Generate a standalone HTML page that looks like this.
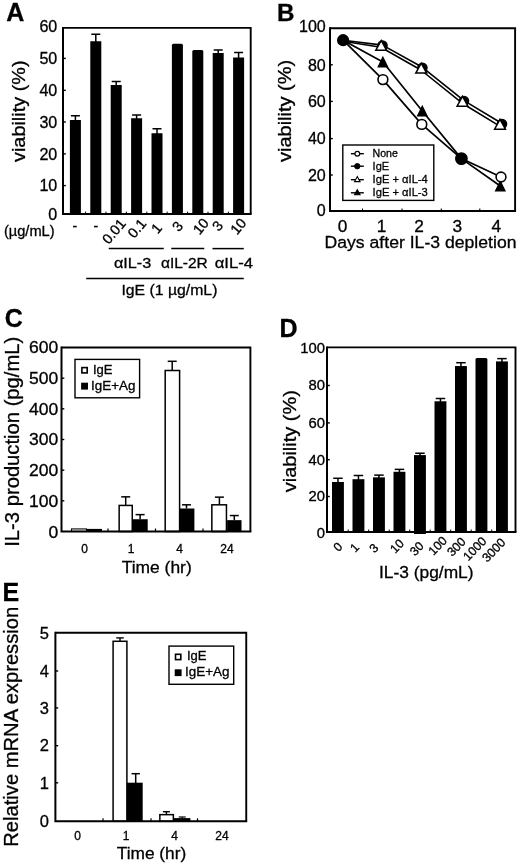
<!DOCTYPE html>
<html lang="en">
<head>
<meta charset="utf-8">
<title>Figure</title>
<style>
html,body{margin:0;padding:0;background:#fff;}
body{width:520px;height:865px;overflow:hidden;}
svg{display:block;}
svg text{font-family:'Liberation Sans', 'DejaVu Sans', sans-serif;fill:#000;stroke:#000;stroke-width:0.3px;}
</style>
</head>
<body>
<svg width="520" height="865" viewBox="0 0 520 865">
<rect x="0" y="0" width="520" height="865" fill="#fff"/>
<g id="panelA">
<text x="6.3" y="20.9" font-size="25" font-weight="bold">A</text>
<line x1="75.40" y1="115.75" x2="75.40" y2="121.00" stroke="#000" stroke-width="1.5"/>
<line x1="70.90" y1="115.75" x2="79.90" y2="115.75" stroke="#000" stroke-width="1.5"/>
<rect x="69.90" y="120.00" width="11.00" height="94.10" fill="#000"/>
<line x1="95.80" y1="34.25" x2="95.80" y2="42.25" stroke="#000" stroke-width="1.5"/>
<line x1="91.30" y1="34.25" x2="100.30" y2="34.25" stroke="#000" stroke-width="1.5"/>
<rect x="90.30" y="41.25" width="11.00" height="172.85" fill="#000"/>
<line x1="116.20" y1="81.50" x2="116.20" y2="86.00" stroke="#000" stroke-width="1.5"/>
<line x1="111.70" y1="81.50" x2="120.70" y2="81.50" stroke="#000" stroke-width="1.5"/>
<rect x="110.70" y="85.00" width="11.00" height="129.10" fill="#000"/>
<line x1="136.60" y1="115.00" x2="136.60" y2="119.25" stroke="#000" stroke-width="1.5"/>
<line x1="132.10" y1="115.00" x2="141.10" y2="115.00" stroke="#000" stroke-width="1.5"/>
<rect x="131.10" y="118.25" width="11.00" height="95.85" fill="#000"/>
<line x1="157.00" y1="128.75" x2="157.00" y2="134.25" stroke="#000" stroke-width="1.5"/>
<line x1="152.50" y1="128.75" x2="161.50" y2="128.75" stroke="#000" stroke-width="1.5"/>
<rect x="151.50" y="133.25" width="11.00" height="80.85" fill="#000"/>
<path d="M171.90 214.1V45.25Q171.90 43.75 173.40 43.75H181.40Q182.90 43.75 182.90 45.25V214.1Z" fill="#000"/>
<path d="M192.30 214.1V51.5Q192.30 50 193.80 50H201.80Q203.30 50 203.30 51.5V214.1Z" fill="#000"/>
<line x1="218.20" y1="50.00" x2="218.20" y2="54.00" stroke="#000" stroke-width="1.5"/>
<line x1="213.70" y1="50.00" x2="222.70" y2="50.00" stroke="#000" stroke-width="1.5"/>
<rect x="212.70" y="53.00" width="11.00" height="161.10" fill="#000"/>
<line x1="238.60" y1="52.50" x2="238.60" y2="58.50" stroke="#000" stroke-width="1.5"/>
<line x1="234.10" y1="52.50" x2="243.10" y2="52.50" stroke="#000" stroke-width="1.5"/>
<rect x="233.10" y="57.50" width="11.00" height="156.60" fill="#000"/>
<path d="M63.0 27.9H250.7V214.1" fill="none" stroke="#000" stroke-width="1.9"/>
<path d="M63.0 26.95V214.1H251.64999999999998" fill="none" stroke="#000" stroke-width="2.0"/>
<text x="57.3" y="32.3" font-size="16.2" text-anchor="end" textLength="17.9" lengthAdjust="spacingAndGlyphs">60</text>
<line x1="63.00" y1="58.40" x2="65.80" y2="58.40" stroke="#000" stroke-width="1.4"/>
<text x="57.3" y="64.2" font-size="16.2" text-anchor="end" textLength="17.9" lengthAdjust="spacingAndGlyphs">50</text>
<line x1="63.00" y1="90.30" x2="65.80" y2="90.30" stroke="#000" stroke-width="1.4"/>
<text x="57.3" y="96.1" font-size="16.2" text-anchor="end" textLength="17.9" lengthAdjust="spacingAndGlyphs">40</text>
<line x1="63.00" y1="122.00" x2="65.80" y2="122.00" stroke="#000" stroke-width="1.4"/>
<text x="57.3" y="127.8" font-size="16.2" text-anchor="end" textLength="17.9" lengthAdjust="spacingAndGlyphs">30</text>
<line x1="63.00" y1="153.90" x2="65.80" y2="153.90" stroke="#000" stroke-width="1.4"/>
<text x="57.3" y="159.70000000000002" font-size="16.2" text-anchor="end" textLength="17.9" lengthAdjust="spacingAndGlyphs">20</text>
<line x1="63.00" y1="185.60" x2="65.80" y2="185.60" stroke="#000" stroke-width="1.4"/>
<text x="57.3" y="191.4" font-size="16.2" text-anchor="end" textLength="17.9" lengthAdjust="spacingAndGlyphs">10</text>
<text x="57.3" y="220.10000000000002" font-size="16.2" text-anchor="end" textLength="8.95" lengthAdjust="spacingAndGlyphs">0</text>
<line x1="85.60" y1="214.10" x2="85.60" y2="211.60" stroke="#000" stroke-width="1"/>
<line x1="106.00" y1="214.10" x2="106.00" y2="211.60" stroke="#000" stroke-width="1"/>
<line x1="126.40" y1="214.10" x2="126.40" y2="211.60" stroke="#000" stroke-width="1"/>
<line x1="146.80" y1="214.10" x2="146.80" y2="211.60" stroke="#000" stroke-width="1"/>
<line x1="167.20" y1="214.10" x2="167.20" y2="211.60" stroke="#000" stroke-width="1"/>
<line x1="187.60" y1="214.10" x2="187.60" y2="211.60" stroke="#000" stroke-width="1"/>
<line x1="208.00" y1="214.10" x2="208.00" y2="211.60" stroke="#000" stroke-width="1"/>
<line x1="228.40" y1="214.10" x2="228.40" y2="211.60" stroke="#000" stroke-width="1"/>
<text x="24.6" y="111.25" font-size="19" text-anchor="middle" transform="rotate(-90 24.6 111.25)" textLength="101.5" lengthAdjust="spacingAndGlyphs">viability (%)</text>
<text x="3.9" y="236" font-size="14.5" textLength="50.7" lengthAdjust="spacingAndGlyphs">(µg/mL)</text>
<text x="74.8" y="230.5" font-size="14" text-anchor="middle">-</text>
<text x="95.8" y="230.5" font-size="14" text-anchor="middle">-</text>
<text x="113.8" y="231.2" font-size="14.2" text-anchor="middle" transform="rotate(-50 113.8 231.2)" dominant-baseline="central">0.01</text>
<text x="136.8" y="228.2" font-size="14.2" text-anchor="middle" transform="rotate(-50 136.8 228.2)" dominant-baseline="central">0.1</text>
<text x="156.5" y="228.2" font-size="14.2" text-anchor="middle" transform="rotate(-50 156.5 228.2)" dominant-baseline="central">1</text>
<text x="177.5" y="226.25" font-size="14.2" text-anchor="middle" transform="rotate(-50 177.5 226.25)" dominant-baseline="central">3</text>
<text x="200.75" y="226.25" font-size="14.2" text-anchor="middle" transform="rotate(-50 200.75 226.25)" dominant-baseline="central">10</text>
<text x="217.5" y="225.8" font-size="14.2" text-anchor="middle" transform="rotate(-50 217.5 225.8)" dominant-baseline="central">3</text>
<text x="238.25" y="226.25" font-size="14.2" text-anchor="middle" transform="rotate(-50 238.25 226.25)" dominant-baseline="central">10</text>
<line x1="108.75" y1="248.60" x2="163.75" y2="248.60" stroke="#000" stroke-width="1.5"/>
<line x1="171.25" y1="248.60" x2="204.25" y2="248.60" stroke="#000" stroke-width="1.5"/>
<line x1="212.50" y1="248.60" x2="243.75" y2="248.60" stroke="#000" stroke-width="1.5"/>
<text x="113.9" y="267.6" font-size="15" textLength="37.3" lengthAdjust="spacingAndGlyphs">αIL-3</text>
<text x="161" y="267.6" font-size="15" textLength="46.8" lengthAdjust="spacingAndGlyphs">αIL-2R</text>
<text x="214.7" y="267.6" font-size="15" textLength="38.4" lengthAdjust="spacingAndGlyphs">αIL-4</text>
<line x1="86.25" y1="278.60" x2="243.75" y2="278.60" stroke="#000" stroke-width="1.5"/>
<text x="169.4" y="295" font-size="15" text-anchor="middle" textLength="96" lengthAdjust="spacingAndGlyphs">IgE (1 µg/mL)</text>
</g>
<g id="panelB">
<text x="276.9" y="21.2" font-size="24.2" font-weight="bold">B</text>
<polyline points="343.1,40.2 382.9,62.0 422.3,111.0 461.4,158.6 500.3,186.0" fill="none" stroke="#000" stroke-width="1.7" stroke-linejoin="round"/>
<polyline points="343.1,40.2 382.9,79.6 421.8,124.4 461.4,158.6 501.0,177.0" fill="none" stroke="#000" stroke-width="1.7" stroke-linejoin="round"/>
<polyline points="343.1,40.2 382.5,45.1 422.4,67.3 464.0,100.6 502.0,123.5" fill="none" stroke="#000" stroke-width="1.6" stroke-linejoin="round"/>
<polyline points="343.1,41.2 380.9,47.3 420.9,70.0 462.2,103.2 499.7,126.1" fill="none" stroke="#000" stroke-width="1.6" stroke-linejoin="round"/>
<path d="M382.90 57.51L387.41 66.75H378.39Z" fill="#000" stroke="#000" stroke-width="1.5" stroke-linejoin="miter"/>
<path d="M422.30 106.51L426.81 115.75H417.79Z" fill="#000" stroke="#000" stroke-width="1.5" stroke-linejoin="miter"/>
<path d="M500.30 181.51L504.81 190.75H495.79Z" fill="#000" stroke="#000" stroke-width="1.5" stroke-linejoin="miter"/>
<circle cx="382.9" cy="79.6" r="4.9" fill="#fff" stroke="#000" stroke-width="1.6"/>
<circle cx="421.8" cy="124.4" r="4.9" fill="#fff" stroke="#000" stroke-width="1.6"/>
<circle cx="501.0" cy="177.0" r="4.9" fill="#fff" stroke="#000" stroke-width="1.6"/>
<circle cx="382.5" cy="45.6" r="4.7" fill="#000" stroke="#000" stroke-width="1.2"/>
<circle cx="422.4" cy="67.8" r="4.7" fill="#000" stroke="#000" stroke-width="1.2"/>
<circle cx="464.0" cy="101.1" r="4.7" fill="#000" stroke="#000" stroke-width="1.2"/>
<circle cx="502.0" cy="124.0" r="4.7" fill="#000" stroke="#000" stroke-width="1.2"/>
<path d="M381.20 40.51L386.61 50.35H375.79Z" fill="#fff" stroke="#000" stroke-width="1.5" stroke-linejoin="miter"/>
<path d="M421.20 63.21L426.61 73.05H415.79Z" fill="#fff" stroke="#000" stroke-width="1.5" stroke-linejoin="miter"/>
<path d="M462.50 96.41L467.91 106.25H457.09Z" fill="#fff" stroke="#000" stroke-width="1.5" stroke-linejoin="miter"/>
<path d="M500.00 119.31L505.41 129.15H494.59Z" fill="#fff" stroke="#000" stroke-width="1.5" stroke-linejoin="miter"/>
<circle cx="343.1" cy="40.2" r="5.3" fill="#000" stroke="#000" stroke-width="1.6"/>
<circle cx="461.4" cy="158.6" r="5.6" fill="#000" stroke="#000" stroke-width="1.6"/>
<path d="M330 28.2H515.1V211.0" fill="none" stroke="#000" stroke-width="1.9"/>
<path d="M330 27.25V211.0H516.0500000000001" fill="none" stroke="#000" stroke-width="2.0"/>
<text x="325.8" y="32.4" font-size="16.3" text-anchor="end" textLength="26.849999999999998" lengthAdjust="spacingAndGlyphs">100</text>
<line x1="330.00" y1="64.80" x2="332.80" y2="64.80" stroke="#000" stroke-width="1.4"/>
<text x="325.8" y="70.6" font-size="16.3" text-anchor="end" textLength="17.9" lengthAdjust="spacingAndGlyphs">80</text>
<line x1="330.00" y1="101.40" x2="332.80" y2="101.40" stroke="#000" stroke-width="1.4"/>
<text x="325.8" y="107.2" font-size="16.3" text-anchor="end" textLength="17.9" lengthAdjust="spacingAndGlyphs">60</text>
<line x1="330.00" y1="138.60" x2="332.80" y2="138.60" stroke="#000" stroke-width="1.4"/>
<text x="325.8" y="144.4" font-size="16.3" text-anchor="end" textLength="17.9" lengthAdjust="spacingAndGlyphs">40</text>
<line x1="330.00" y1="175.00" x2="332.80" y2="175.00" stroke="#000" stroke-width="1.4"/>
<text x="325.8" y="180.8" font-size="16.3" text-anchor="end" textLength="17.9" lengthAdjust="spacingAndGlyphs">20</text>
<text x="325.8" y="216.20000000000002" font-size="16.3" text-anchor="end" textLength="8.95" lengthAdjust="spacingAndGlyphs">0</text>
<text x="342.5" y="231.5" font-size="16" text-anchor="middle" textLength="9.6" lengthAdjust="spacingAndGlyphs">0</text>
<text x="381.5" y="231.5" font-size="16" text-anchor="middle" textLength="9.6" lengthAdjust="spacingAndGlyphs">1</text>
<text x="419" y="231.5" font-size="16" text-anchor="middle" textLength="9.6" lengthAdjust="spacingAndGlyphs">2</text>
<text x="457.3" y="231.5" font-size="16" text-anchor="middle" textLength="9.6" lengthAdjust="spacingAndGlyphs">3</text>
<text x="496.3" y="231.5" font-size="16" text-anchor="middle" textLength="9.6" lengthAdjust="spacingAndGlyphs">4</text>
<line x1="362.50" y1="211.00" x2="362.50" y2="208.50" stroke="#000" stroke-width="1.1"/>
<line x1="402.00" y1="211.00" x2="402.00" y2="208.50" stroke="#000" stroke-width="1.1"/>
<line x1="441.30" y1="211.00" x2="441.30" y2="208.50" stroke="#000" stroke-width="1.1"/>
<line x1="479.80" y1="211.00" x2="479.80" y2="208.50" stroke="#000" stroke-width="1.1"/>
<text x="291.2" y="110.9" font-size="19" text-anchor="middle" transform="rotate(-90 291.2 110.9)" textLength="102" lengthAdjust="spacingAndGlyphs">viability (%)</text>
<text x="420.5" y="248.4" font-size="16.8" text-anchor="middle" textLength="192" lengthAdjust="spacingAndGlyphs">Days after IL-3 depletion</text>
<rect x="342.80" y="145.00" width="91.00" height="55.40" fill="#fff" stroke="#000" stroke-width="1.4"/>
<line x1="350.90" y1="153.70" x2="363.80" y2="153.70" stroke="#000" stroke-width="1.4"/>
<circle cx="357.3" cy="153.7" r="2.4" fill="#fff" stroke="#000" stroke-width="1.2"/>
<text x="372.6" y="157" font-size="11" textLength="25.3" lengthAdjust="spacingAndGlyphs">None</text>
<line x1="350.90" y1="166.20" x2="363.80" y2="166.20" stroke="#000" stroke-width="1.4"/>
<circle cx="357.3" cy="166.2" r="2.7" fill="#000" stroke="#000" stroke-width="1.0"/>
<text x="372.6" y="169.7" font-size="11" textLength="16.5" lengthAdjust="spacingAndGlyphs">IgE</text>
<line x1="350.90" y1="179.70" x2="363.80" y2="179.70" stroke="#000" stroke-width="1.4"/>
<path d="M357.30 176.58L360.06 181.65H354.54Z" fill="#fff" stroke="#000" stroke-width="1.1" stroke-linejoin="miter"/>
<text x="372.6" y="182.5" font-size="11" textLength="55.2" lengthAdjust="spacingAndGlyphs">IgE + αIL-4</text>
<line x1="350.90" y1="192.80" x2="363.80" y2="192.80" stroke="#000" stroke-width="1.4"/>
<path d="M357.30 189.68L360.06 194.75H354.54Z" fill="#000" stroke="#000" stroke-width="1.1" stroke-linejoin="miter"/>
<text x="372.6" y="195.5" font-size="11" textLength="55.2" lengthAdjust="spacingAndGlyphs">IgE + αIL-3</text>
</g>
<g id="panelC">
<text x="4.8" y="326.5" font-size="25" font-weight="bold">C</text>
<rect x="71.50" y="528.90" width="15.00" height="2.60" fill="#ddd" stroke="#000" stroke-width="1"/>
<rect x="86.50" y="528.90" width="15.50" height="2.60" fill="#000"/>
<line x1="125.70" y1="496.85" x2="125.70" y2="505.43" stroke="#000" stroke-width="1.5"/>
<line x1="121.20" y1="496.85" x2="130.20" y2="496.85" stroke="#000" stroke-width="1.5"/>
<rect x="119.15" y="505.43" width="13.10" height="26.07" fill="#fff" stroke="#000" stroke-width="1.5"/>
<line x1="140.10" y1="514.63" x2="140.10" y2="519.23" stroke="#000" stroke-width="1.5"/>
<line x1="135.60" y1="514.63" x2="144.60" y2="514.63" stroke="#000" stroke-width="1.5"/>
<rect x="132.90" y="519.23" width="14.80" height="12.27" fill="#000"/>
<line x1="172.20" y1="361.30" x2="172.20" y2="370.50" stroke="#000" stroke-width="1.5"/>
<line x1="167.70" y1="361.30" x2="176.70" y2="361.30" stroke="#000" stroke-width="1.5"/>
<rect x="165.20" y="370.50" width="14.40" height="161.00" fill="#fff" stroke="#000" stroke-width="1.5"/>
<line x1="186.50" y1="504.82" x2="186.50" y2="508.50" stroke="#000" stroke-width="1.5"/>
<line x1="182.00" y1="504.82" x2="191.00" y2="504.82" stroke="#000" stroke-width="1.5"/>
<rect x="179.60" y="508.50" width="14.80" height="23.00" fill="#000"/>
<line x1="219.40" y1="497.15" x2="219.40" y2="504.82" stroke="#000" stroke-width="1.5"/>
<line x1="214.90" y1="497.15" x2="223.90" y2="497.15" stroke="#000" stroke-width="1.5"/>
<rect x="211.85" y="504.82" width="14.60" height="26.68" fill="#fff" stroke="#000" stroke-width="1.5"/>
<line x1="234.30" y1="515.55" x2="234.30" y2="520.15" stroke="#000" stroke-width="1.5"/>
<line x1="229.80" y1="515.55" x2="238.80" y2="515.55" stroke="#000" stroke-width="1.5"/>
<rect x="227.10" y="520.15" width="14.40" height="11.35" fill="#000"/>
<path d="M61.5 347.5H250.4V531.5" fill="none" stroke="#000" stroke-width="1.9"/>
<path d="M61.5 346.55V531.5H251.35" fill="none" stroke="#000" stroke-width="2.0"/>
<text x="58.3" y="353.29999999999995" font-size="16.5" text-anchor="end" textLength="29.25" lengthAdjust="spacingAndGlyphs">600</text>
<line x1="61.50" y1="378.17" x2="64.30" y2="378.17" stroke="#000" stroke-width="1.4"/>
<text x="58.3" y="383.59999999999997" font-size="16.5" text-anchor="end" textLength="29.25" lengthAdjust="spacingAndGlyphs">500</text>
<line x1="61.50" y1="408.83" x2="64.30" y2="408.83" stroke="#000" stroke-width="1.4"/>
<text x="58.3" y="414.7" font-size="16.5" text-anchor="end" textLength="29.25" lengthAdjust="spacingAndGlyphs">400</text>
<line x1="61.50" y1="439.50" x2="64.30" y2="439.50" stroke="#000" stroke-width="1.4"/>
<text x="58.3" y="445.29999999999995" font-size="16.5" text-anchor="end" textLength="29.25" lengthAdjust="spacingAndGlyphs">300</text>
<line x1="61.50" y1="470.17" x2="64.30" y2="470.17" stroke="#000" stroke-width="1.4"/>
<text x="58.3" y="476.29999999999995" font-size="16.5" text-anchor="end" textLength="29.25" lengthAdjust="spacingAndGlyphs">200</text>
<line x1="61.50" y1="500.83" x2="64.30" y2="500.83" stroke="#000" stroke-width="1.4"/>
<text x="58.3" y="506.9" font-size="16.5" text-anchor="end" textLength="29.25" lengthAdjust="spacingAndGlyphs">100</text>
<text x="58.3" y="538.3" font-size="16.5" text-anchor="end" textLength="9.75" lengthAdjust="spacingAndGlyphs">0</text>
<line x1="108.00" y1="531.50" x2="108.00" y2="528.50" stroke="#000" stroke-width="1.2"/>
<line x1="155.50" y1="531.50" x2="155.50" y2="528.50" stroke="#000" stroke-width="1.2"/>
<line x1="203.00" y1="531.50" x2="203.00" y2="528.50" stroke="#000" stroke-width="1.2"/>
<text x="84.5" y="552.5" font-size="12" text-anchor="middle">0</text>
<text x="131" y="552.5" font-size="12" text-anchor="middle">1</text>
<text x="179.5" y="552.5" font-size="12" text-anchor="middle">4</text>
<text x="227" y="552.5" font-size="12" text-anchor="middle">24</text>
<text x="19.4" y="441.75" font-size="19.5" text-anchor="middle" transform="rotate(-90 19.4 441.75)" textLength="210" lengthAdjust="spacingAndGlyphs">IL-3 production (pg/mL)</text>
<text x="156.7" y="572.5" font-size="17" text-anchor="middle" textLength="70" lengthAdjust="spacingAndGlyphs">Time (hr)</text>
<rect x="75.00" y="359.40" width="64.60" height="38.40" fill="#fff" stroke="#000" stroke-width="1.4"/>
<rect x="81.90" y="367.60" width="5.30" height="5.30" fill="#fff" stroke="#000" stroke-width="1.6"/>
<rect x="81.10" y="382.70" width="6.90" height="6.90" fill="#000"/>
<text x="92.9" y="373.9" font-size="12.8" textLength="19.6" lengthAdjust="spacingAndGlyphs">IgE</text>
<text x="91" y="389.5" font-size="12.8" textLength="44.4" lengthAdjust="spacingAndGlyphs">IgE+Ag</text>
</g>
<g id="panelD">
<text x="279.6" y="336.5" font-size="25" font-weight="bold">D</text>
<line x1="337.95" y1="478.28" x2="337.95" y2="482.99" stroke="#000" stroke-width="1.5"/>
<line x1="333.20" y1="478.28" x2="342.70" y2="478.28" stroke="#000" stroke-width="1.5"/>
<rect x="332.00" y="481.99" width="11.90" height="50.01" fill="#000"/>
<line x1="358.45" y1="475.50" x2="358.45" y2="480.20" stroke="#000" stroke-width="1.5"/>
<line x1="353.70" y1="475.50" x2="363.20" y2="475.50" stroke="#000" stroke-width="1.5"/>
<rect x="352.50" y="479.20" width="11.90" height="52.80" fill="#000"/>
<line x1="378.95" y1="475.12" x2="378.95" y2="478.35" stroke="#000" stroke-width="1.5"/>
<line x1="374.20" y1="475.12" x2="383.70" y2="475.12" stroke="#000" stroke-width="1.5"/>
<rect x="373.00" y="477.35" width="11.90" height="54.65" fill="#000"/>
<line x1="399.45" y1="469.37" x2="399.45" y2="472.78" stroke="#000" stroke-width="1.5"/>
<line x1="394.70" y1="469.37" x2="404.20" y2="469.37" stroke="#000" stroke-width="1.5"/>
<rect x="393.50" y="471.78" width="11.90" height="60.22" fill="#000"/>
<line x1="419.95" y1="453.24" x2="419.95" y2="456.09" stroke="#000" stroke-width="1.5"/>
<line x1="415.20" y1="453.24" x2="424.70" y2="453.24" stroke="#000" stroke-width="1.5"/>
<rect x="414.00" y="455.09" width="11.90" height="78.91" fill="#000"/>
<line x1="440.45" y1="398.51" x2="440.45" y2="402.29" stroke="#000" stroke-width="1.5"/>
<line x1="435.70" y1="398.51" x2="445.20" y2="398.51" stroke="#000" stroke-width="1.5"/>
<rect x="434.50" y="401.29" width="11.90" height="130.71" fill="#000"/>
<line x1="460.95" y1="362.71" x2="460.95" y2="367.05" stroke="#000" stroke-width="1.5"/>
<line x1="456.20" y1="362.71" x2="465.70" y2="362.71" stroke="#000" stroke-width="1.5"/>
<rect x="455.00" y="366.05" width="11.90" height="165.95" fill="#000"/>
<path d="M475.50 532V359.5735Q475.50 358.0735 477.00 358.0735H485.90Q487.40 358.0735 487.40 359.5735V532Z" fill="#000"/>
<line x1="501.95" y1="358.63" x2="501.95" y2="362.41" stroke="#000" stroke-width="1.5"/>
<line x1="497.20" y1="358.63" x2="506.70" y2="358.63" stroke="#000" stroke-width="1.5"/>
<rect x="496.00" y="361.41" width="11.90" height="170.59" fill="#000"/>
<path d="M327.0 347.4H515.5V532" fill="none" stroke="#000" stroke-width="1.9"/>
<path d="M327.0 346.45V532H516.45" fill="none" stroke="#000" stroke-width="2.0"/>
<text x="325" y="353.29999999999995" font-size="13.8" text-anchor="end" textLength="24.75" lengthAdjust="spacingAndGlyphs">100</text>
<line x1="327.00" y1="385.50" x2="329.80" y2="385.50" stroke="#000" stroke-width="1.4"/>
<text x="325" y="390.4" font-size="13.8" text-anchor="end" textLength="16.5" lengthAdjust="spacingAndGlyphs">80</text>
<line x1="327.00" y1="422.90" x2="329.80" y2="422.90" stroke="#000" stroke-width="1.4"/>
<text x="325" y="427.79999999999995" font-size="13.8" text-anchor="end" textLength="16.5" lengthAdjust="spacingAndGlyphs">60</text>
<line x1="327.00" y1="459.70" x2="329.80" y2="459.70" stroke="#000" stroke-width="1.4"/>
<text x="325" y="464.79999999999995" font-size="13.8" text-anchor="end" textLength="16.5" lengthAdjust="spacingAndGlyphs">40</text>
<line x1="327.00" y1="496.50" x2="329.80" y2="496.50" stroke="#000" stroke-width="1.4"/>
<text x="325" y="501.4" font-size="13.8" text-anchor="end" textLength="16.5" lengthAdjust="spacingAndGlyphs">20</text>
<text x="325" y="537.9" font-size="13.8" text-anchor="end" textLength="8.25" lengthAdjust="spacingAndGlyphs">0</text>
<line x1="348.20" y1="532.00" x2="348.20" y2="529.50" stroke="#000" stroke-width="1"/>
<line x1="368.70" y1="532.00" x2="368.70" y2="529.50" stroke="#000" stroke-width="1"/>
<line x1="389.20" y1="532.00" x2="389.20" y2="529.50" stroke="#000" stroke-width="1"/>
<line x1="409.70" y1="532.00" x2="409.70" y2="529.50" stroke="#000" stroke-width="1"/>
<line x1="430.20" y1="532.00" x2="430.20" y2="529.50" stroke="#000" stroke-width="1"/>
<line x1="450.70" y1="532.00" x2="450.70" y2="529.50" stroke="#000" stroke-width="1"/>
<line x1="471.20" y1="532.00" x2="471.20" y2="529.50" stroke="#000" stroke-width="1"/>
<line x1="491.70" y1="532.00" x2="491.70" y2="529.50" stroke="#000" stroke-width="1"/>
<text x="295.9" y="441.2" font-size="19" text-anchor="middle" transform="rotate(-90 295.9 441.2)" textLength="102" lengthAdjust="spacingAndGlyphs">viability (%)</text>
<text x="338.1" y="546.9" font-size="12.3" text-anchor="middle" transform="rotate(-46 338.1 546.9)" dominant-baseline="central">0</text>
<text x="354.8" y="547.7" font-size="12.3" text-anchor="middle" transform="rotate(-46 354.8 547.7)" dominant-baseline="central">1</text>
<text x="374" y="548.3" font-size="12.3" text-anchor="middle" transform="rotate(-46 374 548.3)" dominant-baseline="central">3</text>
<text x="397.1" y="546.3" font-size="12.3" text-anchor="middle" transform="rotate(-46 397.1 546.3)" dominant-baseline="central">10</text>
<text x="416.9" y="548.8" font-size="12.3" text-anchor="middle" transform="rotate(-46 416.9 548.8)" dominant-baseline="central">30</text>
<text x="437.7" y="545.8" font-size="12.3" text-anchor="middle" transform="rotate(-46 437.7 545.8)" dominant-baseline="central">100</text>
<text x="456.5" y="546.9" font-size="12.3" text-anchor="middle" transform="rotate(-46 456.5 546.9)" dominant-baseline="central">300</text>
<text x="474.8" y="548.8" font-size="12.3" text-anchor="middle" transform="rotate(-46 474.8 548.8)" dominant-baseline="central">1000</text>
<text x="494" y="550.2" font-size="12.3" text-anchor="middle" transform="rotate(-46 494 550.2)" dominant-baseline="central">3000</text>
<text x="426.3" y="578" font-size="17" text-anchor="middle" textLength="94.5" lengthAdjust="spacingAndGlyphs">IL-3 (pg/mL)</text>
</g>
<g id="panelE">
<text x="2.5" y="600.6" font-size="25" font-weight="bold">E</text>
<line x1="120.00" y1="637.89" x2="120.00" y2="641.28" stroke="#000" stroke-width="1.4"/>
<line x1="116.25" y1="637.89" x2="123.75" y2="637.89" stroke="#000" stroke-width="1.4"/>
<rect x="113.10" y="641.28" width="13.80" height="180.02" fill="#fff" stroke="#000" stroke-width="1.5"/>
<line x1="135.70" y1="773.70" x2="135.70" y2="783.00" stroke="#000" stroke-width="1.5"/>
<line x1="131.55" y1="773.70" x2="139.85" y2="773.70" stroke="#000" stroke-width="1.5"/>
<rect x="126.90" y="782.70" width="15.80" height="38.60" fill="#000"/>
<line x1="166.40" y1="811.70" x2="166.40" y2="814.50" stroke="#000" stroke-width="1.4"/>
<line x1="162.90" y1="811.70" x2="169.90" y2="811.70" stroke="#000" stroke-width="1.4"/>
<rect x="159.85" y="814.65" width="13.50" height="6.65" fill="#fff" stroke="#000" stroke-width="1.5"/>
<line x1="182.20" y1="817.00" x2="182.20" y2="818.00" stroke="#000" stroke-width="1.2"/>
<line x1="178.70" y1="817.00" x2="185.70" y2="817.00" stroke="#000" stroke-width="1.2"/>
<rect x="174.00" y="818.10" width="16.40" height="3.20" fill="#000"/>
<path d="M55.4 632.8H246.25V821.3" fill="none" stroke="#000" stroke-width="1.9"/>
<path d="M55.4 631.8499999999999V821.3H247.2" fill="none" stroke="#000" stroke-width="2.0"/>
<text x="48.9" y="638.5" font-size="16.5" text-anchor="end">5</text>
<line x1="55.40" y1="671.00" x2="58.20" y2="671.00" stroke="#000" stroke-width="1.4"/>
<text x="48.9" y="676.7" font-size="16.5" text-anchor="end">4</text>
<line x1="55.40" y1="707.90" x2="58.20" y2="707.90" stroke="#000" stroke-width="1.4"/>
<text x="48.9" y="713.6" font-size="16.5" text-anchor="end">3</text>
<line x1="55.40" y1="745.70" x2="58.20" y2="745.70" stroke="#000" stroke-width="1.4"/>
<text x="48.9" y="751.4000000000001" font-size="16.5" text-anchor="end">2</text>
<line x1="55.40" y1="782.80" x2="58.20" y2="782.80" stroke="#000" stroke-width="1.4"/>
<text x="48.9" y="788.5" font-size="16.5" text-anchor="end">1</text>
<text x="48.9" y="827.0" font-size="16.5" text-anchor="end">0</text>
<line x1="103.00" y1="821.30" x2="103.00" y2="818.30" stroke="#000" stroke-width="1.2"/>
<line x1="151.00" y1="821.30" x2="151.00" y2="818.30" stroke="#000" stroke-width="1.2"/>
<line x1="197.50" y1="821.30" x2="197.50" y2="818.30" stroke="#000" stroke-width="1.2"/>
<text x="77.5" y="840.2" font-size="12" text-anchor="middle">0</text>
<text x="126" y="840.2" font-size="12" text-anchor="middle">1</text>
<text x="174.5" y="840.2" font-size="12" text-anchor="middle">4</text>
<text x="222" y="840.2" font-size="12" text-anchor="middle">24</text>
<text x="17.8" y="726.8" font-size="20" text-anchor="middle" transform="rotate(-90 17.8 726.8)" textLength="240" lengthAdjust="spacingAndGlyphs">Relative mRNA expression</text>
<text x="151.5" y="859.3" font-size="17" text-anchor="middle" textLength="69.5" lengthAdjust="spacingAndGlyphs">Time (hr)</text>
<rect x="169.00" y="646.10" width="64.70" height="38.20" fill="#fff" stroke="#000" stroke-width="1.4"/>
<rect x="175.50" y="654.30" width="5.30" height="5.30" fill="#fff" stroke="#000" stroke-width="1.6"/>
<rect x="174.70" y="669.30" width="6.90" height="6.80" fill="#000"/>
<text x="186.9" y="660.3" font-size="12.8" textLength="19.6" lengthAdjust="spacingAndGlyphs">IgE</text>
<text x="185" y="676.2" font-size="12.8" textLength="44.4" lengthAdjust="spacingAndGlyphs">IgE+Ag</text>
</g>
</svg>
</body>
</html>
